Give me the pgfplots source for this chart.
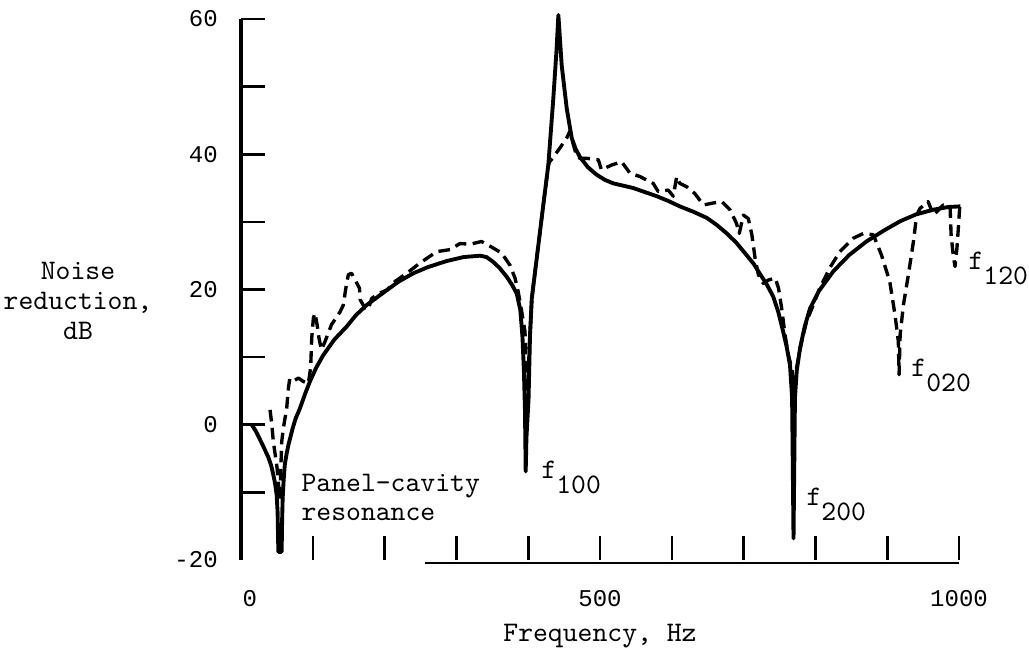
\documentclass[border=0pt]{standalone}
\usepackage{pgfplots}
\pgfplotsset{compat=1.18}
\usepackage{fontspec}
\setmainfont{Liberation Mono}
\newcommand\lab{\ttfamily\fontsize{10.96pt}{11.6pt}\selectfont}
\newcommand\tck{\fontsize{9.3pt}{11pt}\selectfont}

\begin{document}
\begin{tikzpicture}
\path[use as bounding box] (-3.279cm,-1.265cm) rectangle (10.721cm,7.619cm);
\begin{axis}[
  at={(0,0)}, anchor=south west,
  scale only axis, width=9.769cm, height=7.360cm,
  xmin=0, xmax=1000, ymin=-20, ymax=60,
  axis x line*=bottom, axis y line*=left,
  axis line style={-},
  x axis line style={draw=none},
  y axis line style={line width=1.2pt},
  tick align=inside,
  major tick length=0.33cm,
  every tick/.style={black, line width=1pt},
  xtick={100,200,...,1000},
  xticklabels={,,,,500,,,,,1000},
  extra x ticks={0}, extra x tick labels={0},
  extra x tick style={major tick length=0pt, xticklabel style={xshift=0.12cm}},
  ytick={-10,0,...,60},
  yticklabels={,0,,20,,40,,60},
  extra y ticks={-20}, extra y tick labels={-20},
  extra y tick style={major tick length=0pt},
  xticklabel style={anchor=base, yshift=-0.635cm},
  yticklabel style={anchor=east, inner sep=0pt, xshift=-0.31cm},
  tick label style={font=\tck},
  /pgf/number format/assume math mode=true,
  xlabel={Frequency, Hz},
  xlabel style={font=\lab, at={(rel axis cs:0.5,-0.141)}, anchor=center},
  ylabel={Noise\\reduction,\\dB},
  ylabel style={font=\lab, align=center, rotate=-90, at={(rel axis cs:-0.227,0.479)}, anchor=center},
  clip=false,
]
% theory
\addplot[black, line width=1.5pt, line join=round] coordinates {
(15,0) (21,-1) (26.5,-2.2) (32,-3.4) (38,-4.8) (42,-6) (45,-7.4) (47.5,-8.7)
(49.7,-10.4) (51,-13) (52,-18.8)
(56.6,-18.8) (57.3,-14) (58,-10.9) (59.5,-8) (61,-5.9) (63.5,-4.3) (66,-3.0)
(72,-0.5) (76,0.9) (82,2.4) (89,4.5) (96,6.4) (105,8.5) (114.6,10.3)
(130,12.6) (147,14.5) (160,16.2) (175,17.7) (203,19.9) (220,21.2) (240,22.4)
(260,23.3) (286,24.2) (310,24.8) (333,25.0) (342,24.8) (351,24.1) (360,23.2)
(370,21.9) (378,20.6) (384,19.4) (389,17) (392,13) (394,8)
(395.5,2) (396.5,-6.9) (397.5,-2) (400.5,3.9) (402.5,13.3) (405,18.7)
(421,32.5) (428,38.4) (435,48.3) (439.6,55.7) (442,60.6) (446.6,53.2)
(453.6,46.8) (460.6,42.4) (466,40.8) (472,39.6) (483,38.1) (495,37.0)
(507,36.2) (518.5,35.7) (546.5,35.0) (560,34.5) (579,33.8) (595,33.1)
(611,32.3) (630,31.5) (648.6,30.6) (662,29.6) (676.5,28.3) (690,26.9)
(704,25.1) (714,23.8) (722.8,22.3) (732,20.8) (741,19.0) (748,16.8)
(755,13.8) (760,11.5) (764.6,8.8) (767.5,4) (769.5,-16.8) (771.5,4) (774,8)
(778.5,11.3) (785,14.5) (792.5,17.2) (805,19.8) (825,22.7) (847,25.1)
(871,27.1) (895,28.7) (918,30.1) (940,31.1) (964,31.8) (985,32.2) (1002,32.3)
};
% experiment
\addplot[black, line width=1.3pt, dash pattern=on 4.5pt off 2.5pt, line join=round] coordinates {
(40.4,2.2) (43,0) (45,-2.5) (49.7,-5.9) (52,-8.4) (53.5,-11) (55,-8)
(56.7,-2.5) (59,-0.5) (63.6,2.4) (66,5.4) (68,6.9) (75,6.6) (80,6.9)
(86.8,6.4) (93.7,6.1) (97,8.4) (98.5,12.8) (100.8,15.8) (103,16.5) (106,14.8)
(108.6,12.8) (112,11.1) (117,12.3) (126,14.8) (138,16.7) (142.5,17.7)
(146,20.2) (149.5,22.2) (154,22.4) (159,21.4) (165,20.2) (166,18.5)
(172.7,17.2) (177,17.0) (182,18.7) (193.6,19.5) (203,19.9) (214.5,21.2)
(230.8,22.4) (249,23.9) (272.5,25.6) (291,25.9) (305,26.8) (319,26.7)
(335,27.1) (347,26.4) (363,25.4) (374.6,23.6) (381.6,21.7) (386,19.7)
(391,16.7) (395.5,13.8) (397.5,8) (399,5) (401,10) (405,18.7) (421,32.5)
(428,38.4) (430,38.9) (444,40.9) (453.6,42.4) (458,43.4) (463,41.4)
(467.5,39.7) (472,39.4) (481.5,39.4) (497.6,39.2) (502,37.7) (516,38.4)
(530,38.9) (541.8,37.2) (555.7,36.7) (574,35.7) (581,34.5) (595,34.7)
(602,33.8) (606.8,36.7) (611,35.7) (620.7,35.2) (632,34.2) (644,32.5)
(658,32.8) (669.5,33.0) (681,31.8) (690,29.8) (694,28.3) (699.6,31.0)
(706.5,30.5) (711.5,28.1) (716,24.6) (720.5,22.2) (727.5,20.9) (734.5,21.4)
(744,21.7) (748.6,20.2) (753,17.2) (757.7,13.3) (762.3,10.3) (767,8.4)
(770.6,5.5) (773.8,8.4) (780.8,12.3) (787.7,15.3) (797,17.7) (806,20.2)
(820,23.2) (834,25.6) (853,27.6) (867,28.3) (880.6,28.1) (892,25.1)
(903.5,21.2) (910.9,16.2) (915.5,12.3) (916.5,7.4) (918,13.3) (922.5,17.7)
(929.5,22.2) (936.5,27.1) (941,31.0) (945.7,32.0) (957,33.0) (964.4,31.0)
(978,32.5) (987.5,32.3) (989,28) (992,25) (994.4,23.4) (997,26) (999,29) (1001,32.3)
};
\draw[line width=0.8pt] (axis cs:256,-20.4) -- (axis cs:1000,-20.4);
\node[font=\lab, anchor=base west, inner sep=0pt] at (axis cs:83.6,-9.9) {Panel-cavity};
\node[font=\lab, anchor=base west, inner sep=0pt] at (axis cs:83.6,-14.1) {resonance};
\node[font=\lab, anchor=base west, inner sep=0pt] at (axis cs:417.8,-7.9) {f\raisebox{-5.8pt}{100}};
\node[font=\lab, anchor=base west, inner sep=0pt] at (axis cs:787,-11.9) {f\raisebox{-5.8pt}{200}};
\node[font=\lab, anchor=base west, inner sep=0pt] at (axis cs:933,7.2) {f\raisebox{-5.8pt}{020}};
\node[font=\lab, anchor=base west, inner sep=0pt] at (axis cs:1012.5,22.9) {f\raisebox{-5.8pt}{120}};
\end{axis}
\end{tikzpicture}
\end{document}
